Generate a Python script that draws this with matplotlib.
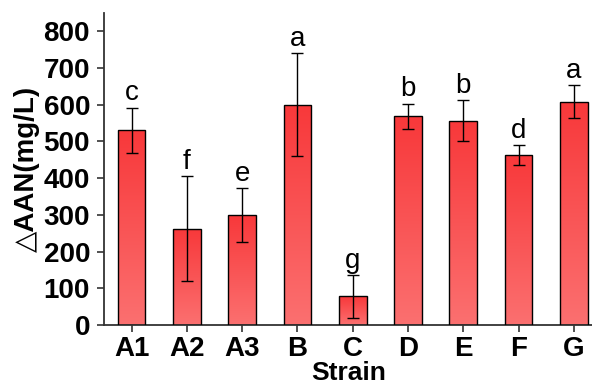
import matplotlib
matplotlib.use("Agg")
import matplotlib.pyplot as plt
import numpy as np
from matplotlib.colors import LinearSegmentedColormap

strains = ["A1", "A2", "A3", "B", "C", "D", "E", "F", "G"]
means = [530, 262, 299, 600, 78, 569, 557, 463, 608]
errs = [62, 143, 73, 140, 58, 34, 56, 27, 45]
letters = ["c", "f", "e", "a", "g", "b", "b", "d", "a"]
yticks = [0, 100, 200, 300, 400, 500, 600, 700, 800]

plt.rcParams['font.family'] = ['Liberation Sans', 'DejaVu Sans']

fig = plt.figure(figsize=(5.92, 3.89), dpi=100)
ax = fig.add_axes([104/592, 64/389, 1 - 104/592 + 0.002, 312/389])

x = np.arange(len(strains))
width = 0.5
bars = ax.bar(x, means, width=width, facecolor='none', edgecolor='black',
              linewidth=1.0, zorder=3)

cmap = LinearSegmentedColormap.from_list("g", ["#fb7070", "#f8383a"])
grad = np.linspace(0, 1, 256).reshape(-1, 1)
for b in bars:
    x0 = b.get_x()
    im = ax.imshow(grad, cmap=cmap, origin='lower', aspect='auto',
                   extent=[x0, x0 + b.get_width(), 0, b.get_height()], zorder=2)
    im.set_clip_path(b)

ax.errorbar(x, means, yerr=errs, fmt='none', ecolor='black', elinewidth=1.0,
            capsize=4, capthick=1.0, zorder=4)

for xi, m, e, l in zip(x, means, errs, letters):
    ax.text(xi, m + e + 4, l, ha='center', va='bottom', fontsize=20, zorder=5)

ax.set_xlim(-0.5, 8.35)
ax.set_ylim(0, 850)
ax.set_xticks(x)
ax.set_xticklabels(strains, fontsize=20, fontweight='bold')
ax.set_yticks(yticks)
ax.set_yticklabels([str(v) for v in yticks], fontsize=20, fontweight='bold')
ax.tick_params(axis='both', direction='out', length=5, width=1.2, colors='#333333',
               labelcolor='black')
ax.tick_params(axis='x', pad=3)
ax.tick_params(axis='y', pad=5)

for s in ['top', 'right']:
    ax.spines[s].set_visible(False)
for s in ['left', 'bottom']:
    ax.spines[s].set_linewidth(1.3)
    ax.spines[s].set_color('#333333')

ax.set_xlabel("Strain", fontsize=19, fontweight='bold', labelpad=-1)
ax.set_ylabel("△AAN(mg/L)", fontsize=20, fontweight='bold', labelpad=3)

fig.savefig("out.png", dpi=100)
